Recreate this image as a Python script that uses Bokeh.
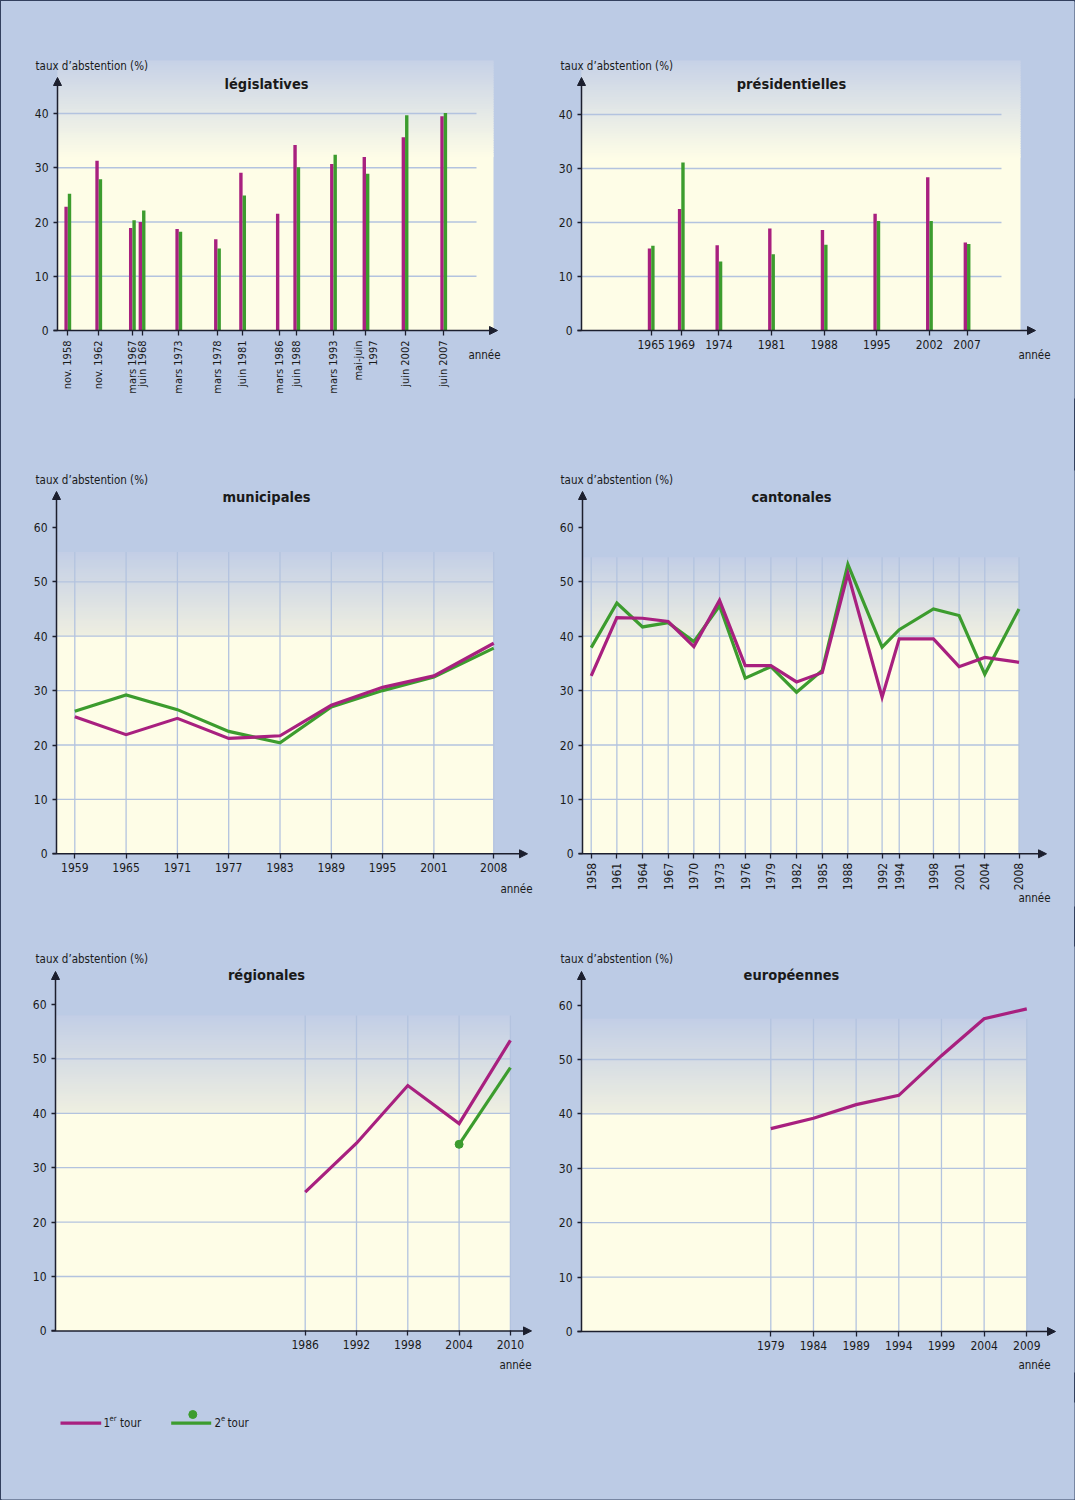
import math
import numpy as np
from bokeh.plotting import figure
from bokeh.models import (Range1d, FixedTicker, Label, Arrow, NormalHead,
                          ColumnDataSource, AllLabels)
from bokeh.layouts import column, row
from bokeh.transform import dodge
from bokeh.embed import file_html
from bokeh.resources import INLINE

nan = float("nan")

# ---------------- data ----------------
leg_labels = ["nov. 1958", "nov. 1962", "mars 1967", "juin 1968", "mars 1973",
              "mars 1978", "juin 1981", "mars 1986", "juin 1988", "mars 1993",
              "mai-juin\n1997", "juin 2002", "juin 2007"]
leg_dates = [1958.85, 1962.85, 1967.2, 1968.45, 1973.2, 1978.2, 1981.45,
             1986.2, 1988.45, 1993.2, 1997.4, 2002.45, 2007.45]
leg_t1 = [22.8, 31.3, 18.9, 20.0, 18.7, 16.8, 29.1, 21.5, 34.2, 30.7, 32.0, 35.6, 39.5]
leg_t2 = [25.2, 27.9, 20.3, 22.1, 18.2, 15.1, 24.9, nan, 30.1, 32.4, 28.9, 39.7, 40.1]

pres_years = [1965, 1969, 1974, 1981, 1988, 1995, 2002, 2007]
pres_t1 = [15.2, 22.5, 15.8, 18.9, 18.6, 21.6, 28.4, 16.3]
pres_t2 = [15.7, 31.1, 12.8, 14.1, 15.9, 20.3, 20.3, 16.0]

mun_years = [1959, 1965, 1971, 1977, 1983, 1989, 1995, 2001, 2008]
mun_t1 = [25.2, 21.9, 24.9, 21.2, 21.7, 27.3, 30.6, 32.7, 38.7]
mun_t2 = [26.2, 29.2, 26.5, 22.5, 20.4, 27.0, 30.0, 32.5, 37.8]

cant_years = [1958, 1961, 1964, 1967, 1970, 1973, 1976, 1979, 1982, 1985,
              1988, 1992, 1994, 1998, 2001, 2004, 2008]
cant_t1 = [32.7, 43.4, 43.3, 42.7, 38.1, 46.6, 34.6, 34.6, 31.6, 33.3,
           51.5, 28.8, 39.5, 39.5, 34.4, 36.1, 35.2]
cant_t2 = [37.9, 46.1, 41.7, 42.5, 39.0, 45.6, 32.3, 34.4, 29.7, 33.7,
           53.2, 38.0, 41.2, 45.0, 43.8, 33.0, 45.0]

reg_years = [1986, 1992, 1998, 2004, 2010]
reg_t1 = [25.5, 34.5, 45.1, 38.1, 53.4]
reg_t2 = [nan, nan, nan, 34.3, 48.4]

eur_years = [1979, 1984, 1989, 1994, 1999, 2004, 2009]
eur_t1 = [37.3, 39.2, 41.7, 43.4, 50.7, 57.5, 59.3]

bar_yticks = [0, 10, 20, 30, 40]
line_yticks = [0, 10, 20, 30, 40, 50, 60]

# ---------------- style ----------------
BG = "#bccbe5"
YEL = "#fefde7"
GRID = "#b3c3df"
AX = "#1c1f2e"
TXT = "#1a1a1a"
MAG = "#a8207f"
GRN = "#3c9c2e"
FONT = "'DejaVu Sans Condensed', 'Liberation Sans Narrow', sans-serif"
YLAB = "taux d\u2019abstention (%)"


def hx(c):
    return tuple(int(c[i:i + 2], 16) for i in (1, 3, 5))


def mix(c0, c1, t):
    a, b = hx(c0), hx(c1)
    return "#%02x%02x%02x" % tuple(round(a[i] + (b[i] - a[i]) * t) for i in range(3))


class Panel:
    """Maps reference page pixels to data values for one small chart."""

    def __init__(self, fx, fy, fw, fh, mb, axis_px, zy, ppy, ppx, ay, apx):
        self.fx, self.fy, self.fw, self.fh = fx, fy, fw, fh
        self.mbl, self.mbr, self.mbt, self.mbb = mb
        self.axis_px = axis_px
        self.zy, self.ppy, self.ppx, self.ay, self.apx = zy, ppy, ppx, ay, apx

    def X(self, px):
        return self.ay + (px - self.apx) / self.ppx

    def Y(self, py):
        return (self.zy - py) / self.ppy

    def fig(self):
        fl, fr = self.fx + self.mbl, self.fx + self.fw - self.mbr
        ft, fb = self.fy + self.mbt, self.fy + self.fh - self.mbb
        p = figure(width=self.fw, height=self.fh,
                   x_range=Range1d(self.X(fl), self.X(fr)),
                   y_range=Range1d(self.Y(fb), self.Y(ft)),
                   output_backend="svg", toolbar_location=None, title=None,
                   min_border_left=self.mbl, min_border_right=self.mbr,
                   min_border_top=self.mbt, min_border_bottom=self.mbb,
                   background_fill_color=BG, border_fill_color=None,
                   outline_line_color=None)
        p.grid.visible = False
        return p

    def label(self, p, px, py, text, size="12px", align="center", bold=False):
        p.add_layout(Label(x=self.X(px), y=self.Y(py), text=text,
                           text_align=align, text_baseline="middle",
                           text_font=FONT, text_font_size=size, text_color=TXT,
                           text_font_style="bold" if bold else "normal"))

    def arrows(self, p, tipx, tipy):
        x0 = self.X(self.axis_px)
        for (xs, xe, ye) in ((x0, x0, self.Y(tipy)), (self.X(self.axis_px - 4), self.X(tipx), 0)):
            p.add_layout(Arrow(end=NormalHead(size=8, fill_color=AX, line_color=AX, line_width=1),
                               x_start=xs, y_start=0, x_end=xe, y_end=ye,
                               line_color=AX, line_width=1.5))


def gradient(p, x0, x1, y0, y1, c0, c1, n=40):
    ys = np.linspace(y0, y1, n + 1)
    step = ys[1] - ys[0]
    tops = ys[1:].copy()
    tops[:-1] += step * 0.6
    cols = [mix(c0, c1, (i + 0.5) / n) for i in range(n)]
    p.quad(left=x0, right=x1, bottom=ys[:-1], top=tops, fill_color=cols, line_color=None)


def style_axes(P, p, xticks, xlabels, yticks, rot=None, xsize="12px", xstand=4):
    xa, ya = p.xaxis[0], p.yaxis[0]
    for ax in (xa, ya):
        ax.axis_line_color = None
        ax.major_tick_line_color = AX
        ax.major_tick_line_width = 1.3
        ax.minor_tick_line_color = None
        ax.major_label_text_font = FONT
        ax.major_label_text_font_size = "12px"
        ax.major_label_text_color = TXT
        ax.major_label_policy = AllLabels()
    xa.fixed_location = 0
    ya.fixed_location = P.X(P.axis_px)
    xa.ticker = FixedTicker(ticks=list(xticks))
    xa.major_label_overrides = {k: v for k, v in zip(xticks, xlabels)}
    xa.major_label_text_font_size = xsize
    xa.major_tick_in = 0
    xa.major_tick_out = 5
    xa.major_label_standoff = xstand
    if rot is not None:
        xa.major_label_orientation = rot
    ya.ticker = FixedTicker(ticks=list(yticks))
    ya.major_tick_in = 0
    ya.major_tick_out = 4
    ya.major_label_standoff = 5


def bar_chart(P, xs, labels, t1, t2, area_top_px, area_r, grid_r, tipx, tipy, rot=None, xsize="12px"):
    p = P.fig()
    x0 = P.X(P.axis_px)
    top = P.Y(area_top_px)
    xr = P.X(area_r)
    p.quad(left=x0, right=xr, bottom=0, top=32.4, fill_color=YEL, line_color=None)
    gradient(p, x0, xr, 32, top, YEL, "#c6d1e7")
    yt = [t for t in bar_yticks if t > 0]
    p.segment(x0=x0, y0=yt, x1=P.X(grid_r), y1=yt, line_color=GRID, line_width=1.3)
    src = ColumnDataSource(dict(x=np.array(xs, float), t1=np.array(t1, float),
                                t2=np.array(t2, float)))
    w = 3.4 / P.ppx
    p.vbar(x=dodge("x", -w / 2), top="t1", bottom=0, width=w,
           fill_color=MAG, line_color=None, source=src)
    p.vbar(x=dodge("x", w / 2), top="t2", bottom=0, width=w,
           fill_color=GRN, line_color=None, source=src)
    style_axes(P, p, xs, labels, bar_yticks, rot=rot, xsize=xsize, xstand=5 if rot else 4)
    P.arrows(p, tipx, tipy)
    return p


def line_chart(P, years, series, area_top, tipx, tipy, rot=None):
    p = P.fig()
    x0 = P.X(P.axis_px)
    xr = years[-1]
    p.quad(left=x0, right=xr, bottom=0, top=40.3, fill_color=YEL, line_color=None)
    gradient(p, x0, xr, 40, area_top, "#efefe1", "#c2cee6")
    yt = [t for t in line_yticks if 0 < t < area_top]
    p.segment(x0=x0, y0=yt, x1=xr, y1=yt, line_color=GRID, line_width=1.3)
    p.segment(x0=years, y0=0, x1=years, y1=area_top, line_color=GRID, line_width=1.3)
    for ys, col in series:
        p.line(years, np.array(ys, float), line_color=col, line_width=3.2, line_join="miter")
    style_axes(P, p, years, [str(y) for y in years], line_yticks, rot=rot)
    P.arrows(p, tipx, tipy)
    return p


# ---------------- panels ----------------
LW, RW = 533, 542
R1, R2, R3 = 470, 946, 1402
leg = Panel(0, 0, LW, R1, (24, 0, 1, 72), 57, 330, 5.425, 7.735, 1958.85, 67.3)
pres = Panel(LW, 0, RW, R1, (24, 1, 1, 72), 581, 330, 5.4, 7.52, 1965, 650.7)
mun = Panel(0, R1, LW, R2 - R1, (24, 0, 0, 40), 56, 853.3, 5.44, 8.55, 1959, 74.3)
cant = Panel(LW, R1, RW, R2 - R1, (24, 1, 0, 40), 582, 853.3, 5.44, 8.556, 1958, 590.7)
reg = Panel(0, R2, LW, R3 - R2, (24, 0, 0, 30), 55, 1330.4, 5.44, 8.55, 1986, 304.7)
eur = Panel(LW, R2, RW, R3 - R2, (24, 1, 0, 30), 581, 1331, 5.44, 8.533, 1979, 770.3)

TS, YS, AS = "14.5px", "11.5px", "11.5px"

p1 = bar_chart(leg, leg_dates, leg_labels, leg_t1, leg_t2, 60, 493, 476, 497, 77,
               rot=math.pi / 2, xsize="11px")
leg.label(p1, 266, 83, "législatives", size=TS, bold=True)
leg.label(p1, 35, 65, YLAB, size=YS, align="left")
leg.label(p1, 484, 354, "année", size=AS)

p2 = bar_chart(pres, pres_years, [str(y) for y in pres_years], pres_t1, pres_t2,
               60, 1020, 1001, 1035, 77)
pres.label(p2, 791, 83, "présidentielles", size=TS, bold=True)
pres.label(p2, 560, 65, YLAB, size=YS, align="left")
pres.label(p2, 1034, 354, "année", size=AS)

p3 = line_chart(mun, mun_years, [(mun_t2, GRN), (mun_t1, MAG)], 55.5, 527, 491)
mun.label(p3, 266, 496, "municipales", size=TS, bold=True)
mun.label(p3, 35, 479, YLAB, size=YS, align="left")
mun.label(p3, 516, 888, "année", size=AS)

p4 = line_chart(cant, cant_years, [(cant_t2, GRN), (cant_t1, MAG)], 54.5, 1046, 491,
                rot=math.pi / 2)
cant.label(p4, 791, 496, "cantonales", size=TS, bold=True)
cant.label(p4, 560, 479, YLAB, size=YS, align="left")
cant.label(p4, 1034, 897, "année", size=AS)

p5 = line_chart(reg, reg_years, [(reg_t2, GRN), (reg_t1, MAG)], 58, 531, 971)
first2 = next(i for i, v in enumerate(reg_t2) if v == v)
p5.scatter([reg_years[first2]], [reg_t2[first2]], size=8, fill_color=GRN, line_color=GRN)
reg.label(p5, 266, 974, "régionales", size=TS, bold=True)
reg.label(p5, 35, 958, YLAB, size=YS, align="left")
reg.label(p5, 515, 1364, "année", size=AS)

p6 = line_chart(eur, eur_years, [(eur_t1, MAG)], 57.5, 1055, 971)
eur.label(p6, 791, 974, "européennes", size=TS, bold=True)
eur.label(p6, 560, 958, YLAB, size=YS, align="left")
eur.label(p6, 1034, 1364, "année", size=AS)

# ---------------- legend ----------------
pl = figure(width=1075, height=1500 - R3, x_range=Range1d(1, 1074), y_range=Range1d(1499, R3),
            output_backend="svg", toolbar_location=None, title=None,
            x_axis_location=None, y_axis_location=None,
            min_border_left=1, min_border_right=1, min_border_top=0, min_border_bottom=1,
            background_fill_color=BG, border_fill_color=None, outline_line_color=None)
pl.grid.visible = False
pl.segment(x0=[60, 170.7], y0=[1422.7, 1422.7], x1=[100.7, 210.7], y1=[1422.7, 1422.7],
           line_color=[MAG, GRN], line_width=3.2)
pl.scatter(x=[192.3], y=[1414], size=8, fill_color=GRN, line_color=GRN)
for (x, y, t, s) in [(103, 1422, "1", "11.5px"), (109, 1417.5, "er", "7.5px"),
                     (119.5, 1422, "tour", "11.5px"),
                     (214, 1422, "2", "11.5px"), (220.5, 1417.5, "e", "7.5px"),
                     (227, 1422, "tour", "11.5px")]:
    pl.add_layout(Label(x=x, y=y, text=t, text_align="left", text_baseline="middle",
                        text_font=FONT, text_font_size=s, text_color=TXT))

layout = column(row(p1, p2), row(p3, p4), row(p5, p6), pl,
                styles={"background-color": BG, "outline": "1px solid #33405e",
                        "outline-offset": "-1px"})

with open("out.html", "w") as f:
    f.write(file_html(layout, INLINE))
